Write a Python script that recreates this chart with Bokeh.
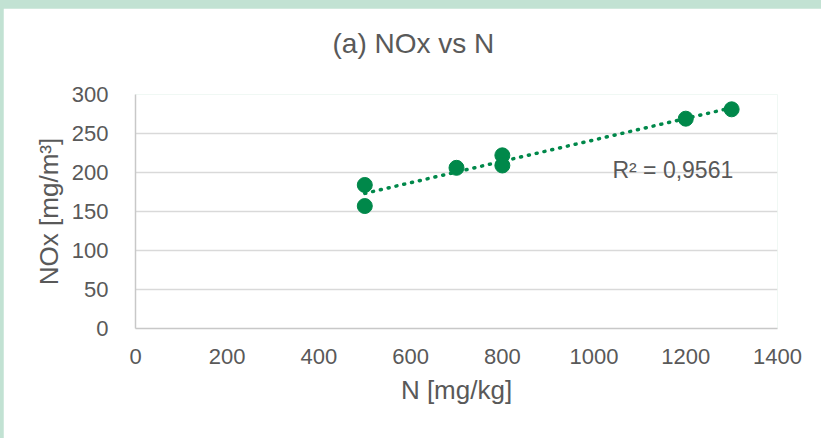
import numpy as np
from bokeh.plotting import figure
from bokeh.layouts import column
from bokeh.models import Range1d, FixedTicker, Label, ColumnDataSource, Title
from bokeh.embed import file_html
from bokeh.resources import INLINE

# ---- data ----
n_mg_kg = [500, 500, 700, 800, 800, 1200, 1300]
nox_mg_m3 = [184, 157, 206, 222, 209, 269, 281]
x_ticks = [0, 200, 400, 600, 800, 1000, 1200, 1400]
y_ticks = [0, 50, 100, 150, 200, 250, 300]
r2_text = "R² = 0,9561"
title_text = "(a) NOx vs N"
x_label = "N [mg/kg]"
y_label = "NOx [mg/m³]"

GREEN = "#00884a"
TXT = "#595959"
FONT = "Liberation Sans"
FRAME_BG = "#c2e2d3"

p = figure(width=818, height=430, output_backend="svg", toolbar_location=None,
           x_range=Range1d(0, 1400), y_range=Range1d(0, 300),
           min_border_left=132, min_border_right=44, min_border_top=86, min_border_bottom=110)
p.background_fill_color = "white"
p.border_fill_color = "white"
p.outline_line_color = None

# spacer between frame and title, then the title itself
p.add_layout(Title(text=" ", text_font_size="1px", standoff=28), "above")
p.add_layout(Title(text=title_text, text_font=FONT, text_font_size="28px",
                   text_font_style="normal", text_color=TXT, align="left",
                   offset=197, standoff=10), "above")

# axes
for ax in (p.xaxis[0], p.yaxis[0]):
    ax.major_tick_line_color = None
    ax.minor_tick_line_color = None
    ax.axis_line_color = "#c8c8c8"
    ax.axis_line_width = 1.5
    ax.major_label_text_font = FONT
    ax.major_label_text_font_size = "22px"
    ax.major_label_text_color = TXT
    ax.axis_label_text_font = FONT
    ax.axis_label_text_font_size = "26px"
    ax.axis_label_text_font_style = "normal"
    ax.axis_label_text_color = TXT

p.xaxis.ticker = FixedTicker(ticks=x_ticks)
p.yaxis.ticker = FixedTicker(ticks=y_ticks)
p.xaxis.axis_label = x_label
p.yaxis.axis_label = y_label
p.xaxis.major_label_standoff = 14
p.yaxis.major_label_standoff = 21
p.xaxis.axis_label_standoff = 8
p.yaxis.axis_label_standoff = 5

p.xgrid.grid_line_color = None
p.ygrid.grid_line_color = "#d9d9d9"
p.ygrid.grid_line_width = 1.5

# linear trendline (least squares over data)
slope, intercept = np.polyfit(n_mg_kg, nox_mg_m3, 1)
tx = [min(n_mg_kg), max(n_mg_kg)]
ty = [slope * v + intercept for v in tx]
p.line(tx, ty, line_color=GREEN, line_width=3.5, line_dash="1 7", line_cap="round")

src = ColumnDataSource(dict(x=n_mg_kg, y=nox_mg_m3))
p.scatter("x", "y", source=src, size=15, fill_color=GREEN, line_color=GREEN)

p.add_layout(Label(x=1040, y=202.7, text=r2_text, text_font=FONT, text_font_size="23px",
                   text_color=TXT, text_baseline="alphabetic", text_align="left"))

layout = column(p, styles={"background-color": FRAME_BG, "padding-top": "8px", "padding-left": "3px"})

open("out.html", "w").write(file_html(layout, INLINE))
